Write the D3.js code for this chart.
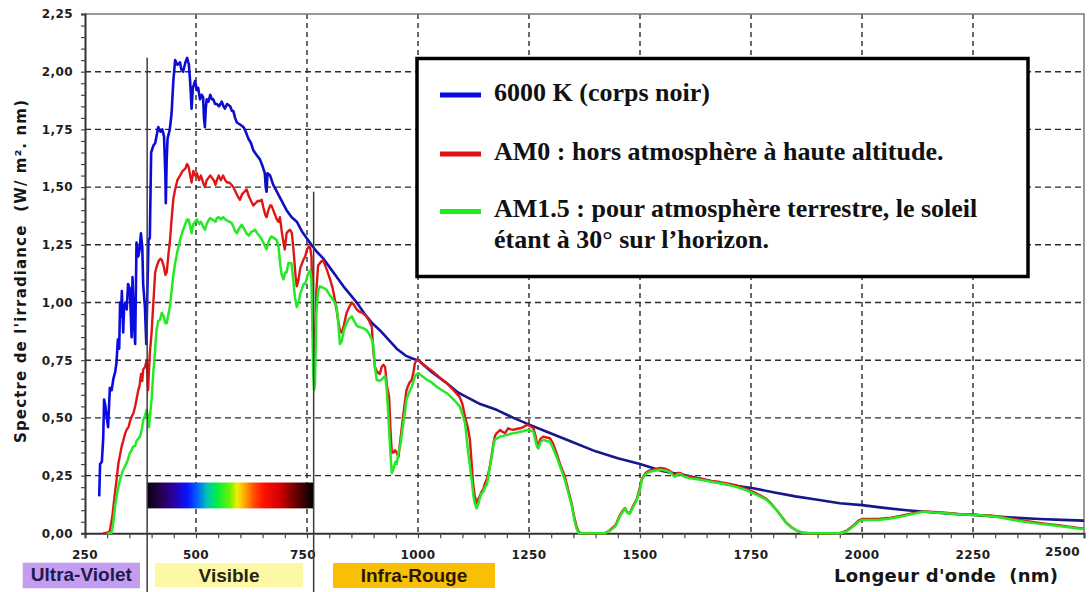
<!DOCTYPE html>
<html>
<head>
<meta charset="utf-8">
<script src="https://cdn.jsdelivr.net/npm/d3@7"></script>
<style>
  body { margin: 0; background: #fff; }
  svg { display: block; }
  .tick-label { font-family: "DejaVu Sans", Verdana, sans-serif; font-weight: bold; font-size: 12px; fill: #1e1e1e; letter-spacing: 0.4px; }
  .axis-title { font-family: "DejaVu Sans", Verdana, sans-serif; font-weight: bold; fill: #161616; white-space: pre; }
  .legend-text { font-family: "Liberation Serif", "Times New Roman", serif; font-weight: bold; font-size: 26px; fill: #111; }
  .band-label { font-family: "Liberation Sans", Arial, sans-serif; font-weight: bold; font-size: 19px; }
</style>
</head>
<body>
<div id="chart"></div>
<script>
// ---- data (wavelength nm, irradiance W/m2.nm) ----
const xTickValues = [250, 500, 750, 1000, 1250, 1500, 1750, 2000, 2250, 2500]
const yTickValues = [0, 0.25, 0.5, 0.75, 1, 1.25, 1.5, 1.75, 2, 2.25]

const seriesNames = ["6000 K (corps noir)", "AM0 : hors atmosphère à haute altitude.", "AM1.5 : pour atmosphère terrestre, le soleil"]
const seriesNote = "étant à 30° sur l’horizon."
const bandNames = ["Ultra-Violet", "Visible", "Infra-Rouge"]
const bandLimits = [390, 765]          // nm, separators between UV / visible / IR
const bandLimitTops = [2.06, 1.48]     // value where each separator starts

const blackBody = [
  [282,0.16],[284,0.30],[288,0.31],[291,0.41],[293,0.58],[296,0.55],[299,0.50],[302,0.46],[306,0.63],[310,0.62],
  [314,0.67],[318,0.70],[321,0.74],[324,0.84],[327,0.80],[329,1.00],[331,0.94],[333,1.05],[336,0.87],[338,0.98],
  [341,1.00],[344,0.97],[347,1.08],[351,1.06],[355,0.85],[357,1.11],[360,0.92],[363,0.82],[366,1.26],[370,1.20],
  [373,1.23],[376,1.30],[379,1.24],[381,1.08],[385,0.98],[388,0.82],[390,1.00],[393,1.27],[396,1.28],[399,1.65],
  [404,1.68],[408,1.69],[415,1.76],[420,1.74],[424,1.75],[428,1.72],[431,1.55],[432,1.43],[434,1.62],[436,1.71],
  [441,1.75],[445,1.82],[449,1.96],[453,2.05],[458,2.03],[464,2.04],[467,2.01],[471,2.00],[476,2.04],[480,2.06],
  [484,2.03],[486,1.98],[488,1.92],[490,1.84],[493,1.93],[498,1.96],[502,1.92],[505,1.93],[509,1.88],[513,1.90],
  [516,1.89],[518,1.80],[520,1.76],[522,1.84],[524,1.88],[528,1.87],[532,1.90],[536,1.88],[539,1.88],[543,1.86],
  [547,1.86],[552,1.85],[558,1.87],[562,1.85],[565,1.84],[570,1.86],[577,1.85],[581,1.83],[584,1.83],[588,1.80],
  [592,1.78],[600,1.77],[607,1.76],[612,1.74],[618,1.71],[624,1.69],[629,1.66],[636,1.64],[644,1.62],[650,1.59],
  [655,1.56],[657,1.50],[659,1.48],[661,1.56],[667,1.55],[674,1.51],[682,1.48],[693,1.44],[704,1.40],[715,1.37],
  [727,1.35],[738,1.31],[749,1.28],[760,1.25],[772,1.22],[787,1.19],[802,1.15],[817,1.11],[832,1.07],[847,1.035],
  [862,1.00],[880,0.95],[897,0.91],[914,0.88],[933,0.84],[952,0.80],[972,0.77],[990,0.755],[1001,0.75],[1030,0.70],
  [1065,0.65],[1090,0.61],[1110,0.59],[1140,0.56],[1177,0.535],[1215,0.50],[1252,0.47],[1290,0.44],[1342,0.40],[1400,0.355],
  [1450,0.325],[1500,0.30],[1550,0.27],[1605,0.25],[1650,0.23],[1700,0.21],[1755,0.195],[1800,0.178],[1850,0.16],[1900,0.145],
  [1950,0.13],[2000,0.122],[2050,0.11],[2100,0.10],[2150,0.092],[2200,0.085],[2250,0.08],[2300,0.073],[2350,0.067],[2400,0.062],
  [2450,0.058],[2500,0.055]
]

const am0 = [
  [291,0],[300,0.003],[306,0.01],[312,0.08],[316,0.15],[321,0.23],[325,0.30],[329,0.34],[333,0.38],[336,0.40],
  [340,0.43],[344,0.45],[348,0.46],[352,0.49],[355,0.505],[359,0.52],[363,0.55],[366,0.58],[370,0.62],[373,0.64],
  [376,0.69],[379,0.66],[381,0.71],[385,0.72],[389,0.75],[392,0.62],[396,0.78],[400,0.87],[404,1.00],[408,1.13],
  [412,1.16],[416,1.18],[420,1.19],[423,1.185],[427,1.16],[431,1.12],[434,1.13],[438,1.21],[441,1.26],[445,1.36],
  [449,1.45],[453,1.49],[458,1.53],[464,1.55],[470,1.57],[476,1.58],[480,1.60],[483,1.59],[487,1.55],[490,1.52],
  [494,1.57],[498,1.55],[502,1.56],[507,1.53],[511,1.55],[516,1.52],[520,1.50],[524,1.53],[528,1.54],[532,1.55],
  [536,1.54],[540,1.53],[544,1.51],[547,1.53],[551,1.55],[556,1.53],[561,1.55],[566,1.53],[570,1.52],[575,1.52],
  [580,1.51],[584,1.50],[589,1.48],[594,1.46],[599,1.445],[604,1.47],[609,1.48],[614,1.49],[619,1.46],[624,1.44],
  [629,1.42],[634,1.43],[639,1.44],[644,1.44],[648,1.445],[652,1.41],[656,1.38],[659,1.37],[663,1.40],[667,1.42],
  [670,1.42],[674,1.40],[678,1.38],[682,1.36],[686,1.35],[689,1.37],[693,1.31],[697,1.26],[700,1.23],[704,1.30],
  [708,1.31],[712,1.315],[716,1.30],[720,1.22],[724,1.12],[727,1.07],[731,1.10],[735,1.15],[739,1.17],[742,1.185],
  [746,1.20],[750,1.23],[753,1.24],[757,1.24],[760,1.20],[762,1.05],[764,0.85],[766,0.75],[768,0.80],[771,1.05],
  [775,1.16],[779,1.17],[783,1.18],[787,1.18],[791,1.16],[795,1.14],[802,1.10],[808,1.06],[814,1.00],[820,0.925],
  [824,0.88],[828,0.87],[833,0.90],[839,0.955],[845,0.98],[851,1.00],[856,0.99],[862,0.97],[868,0.96],[875,0.955],
  [884,0.94],[890,0.92],[896,0.895],[899,0.80],[903,0.72],[908,0.70],[914,0.69],[918,0.72],[922,0.73],[926,0.72],
  [930,0.64],[935,0.59],[938,0.45],[941,0.35],[945,0.35],[948,0.36],[952,0.35],[956,0.33],[960,0.40],[963,0.45],
  [968,0.53],[974,0.62],[980,0.65],[986,0.665],[990,0.70],[993,0.737],[997,0.75],[1001,0.75],[1010,0.735],[1020,0.72],
  [1027,0.71],[1040,0.69],[1052,0.67],[1065,0.65],[1080,0.62],[1094,0.59],[1100,0.56],[1106,0.505],[1112,0.46],[1117,0.405],
  [1121,0.30],[1124,0.217],[1128,0.16],[1132,0.13],[1136,0.15],[1139,0.16],[1143,0.18],[1147,0.19],[1151,0.217],[1156,0.24],
  [1162,0.29],[1166,0.34],[1170,0.39],[1173,0.42],[1177,0.434],[1181,0.44],[1185,0.448],[1190,0.44],[1196,0.434],[1203,0.455],
  [1209,0.45],[1215,0.448],[1222,0.452],[1230,0.455],[1237,0.46],[1245,0.47],[1252,0.465],[1260,0.455],[1265,0.42],[1268,0.39],
  [1271,0.383],[1276,0.41],[1282,0.419],[1290,0.415],[1297,0.412],[1304,0.39],[1312,0.347],[1320,0.30],[1331,0.245],[1338,0.19],
  [1346,0.13],[1352,0.07],[1357,0.03],[1362,0.005],[1370,0],[1420,0],[1430,0.01],[1445,0.035],[1455,0.08],[1462,0.10],
  [1466,0.11],[1472,0.09],[1477,0.087],[1485,0.12],[1493,0.15],[1500,0.2],[1504,0.235],[1512,0.26],[1519,0.27],[1530,0.276],
  [1545,0.283],[1556,0.28],[1568,0.27],[1574,0.258],[1579,0.25],[1585,0.262],[1590,0.262],[1600,0.25],[1613,0.245],[1625,0.24],
  [1643,0.235],[1660,0.227],[1680,0.222],[1700,0.215],[1718,0.207],[1735,0.195],[1755,0.18],[1770,0.165],[1785,0.148],[1797,0.125],
  [1808,0.10],[1820,0.07],[1830,0.045],[1842,0.025],[1853,0.012],[1865,0.003],[1880,0],[1950,0],[1964,0.01],[1975,0.025],
  [1984,0.04],[1992,0.055],[2000,0.062],[2036,0.062],[2060,0.066],[2086,0.075],[2110,0.085],[2138,0.095],[2160,0.092],[2188,0.089],
  [2215,0.084],[2240,0.082],[2265,0.079],[2291,0.077],[2315,0.07],[2341,0.062],[2365,0.055],[2392,0.047],[2420,0.04],[2443,0.035],
  [2470,0.028],[2500,0.02]
]

const am15 = [
  [300,0],[310,0.002],[314,0.05],[318,0.12],[322,0.17],[325,0.20],[330,0.24],[335,0.27],[340,0.29],[345,0.31],
  [351,0.347],[355,0.36],[358,0.375],[363,0.38],[366,0.40],[370,0.41],[374,0.42],[378,0.45],[381,0.49],[385,0.51],
  [389,0.535],[392,0.50],[394,0.46],[397,0.52],[400,0.58],[404,0.70],[408,0.795],[411,0.88],[415,0.92],[419,0.925],
  [423,0.955],[427,0.94],[431,0.91],[434,0.91],[438,0.95],[441,0.98],[445,1.05],[449,1.12],[453,1.17],[458,1.22],
  [464,1.27],[470,1.31],[476,1.34],[480,1.36],[483,1.36],[487,1.33],[490,1.30],[494,1.34],[498,1.35],[502,1.36],
  [507,1.34],[511,1.35],[516,1.33],[520,1.315],[524,1.34],[528,1.355],[532,1.366],[536,1.36],[540,1.355],[544,1.35],
  [547,1.366],[551,1.37],[556,1.36],[561,1.37],[566,1.36],[570,1.355],[575,1.35],[580,1.345],[584,1.33],[588,1.31],
  [592,1.30],[597,1.32],[603,1.337],[608,1.32],[614,1.30],[619,1.29],[624,1.305],[629,1.31],[633,1.315],[638,1.30],
  [644,1.286],[649,1.27],[654,1.25],[659,1.23],[663,1.26],[667,1.28],[670,1.286],[675,1.28],[682,1.27],[686,1.24],
  [690,1.16],[693,1.12],[697,1.10],[701,1.13],[704,1.13],[708,1.17],[712,1.17],[715,1.17],[719,1.10],[723,1.02],
  [727,0.98],[731,1.00],[735,1.04],[739,1.06],[742,1.08],[746,1.08],[750,1.11],[754,1.13],[757,1.14],[760,1.10],
  [762,0.90],[764,0.70],[766,0.62],[768,0.65],[771,0.95],[775,1.05],[779,1.07],[785,1.065],[790,1.06],[794,1.055],
  [800,1.035],[806,1.02],[812,1.00],[817,0.98],[821,0.90],[824,0.82],[828,0.83],[833,0.88],[839,0.91],[845,0.93],
  [851,0.94],[856,0.92],[862,0.90],[866,0.895],[875,0.89],[884,0.88],[891,0.86],[896,0.84],[899,0.82],[903,0.72],
  [907,0.665],[912,0.66],[918,0.665],[922,0.675],[926,0.68],[929,0.635],[933,0.52],[937,0.375],[941,0.26],[945,0.28],
  [949,0.31],[952,0.30],[956,0.35],[960,0.38],[963,0.42],[967,0.48],[971,0.53],[974,0.58],[978,0.60],[982,0.62],
  [986,0.635],[990,0.66],[993,0.68],[997,0.69],[1001,0.694],[1010,0.68],[1020,0.665],[1030,0.655],[1042,0.635],[1054,0.62],
  [1065,0.607],[1080,0.58],[1087,0.565],[1094,0.55],[1100,0.515],[1106,0.477],[1113,0.35],[1117,0.29],[1121,0.23],[1125,0.16],
  [1128,0.13],[1132,0.108],[1136,0.13],[1139,0.15],[1143,0.173],[1147,0.18],[1151,0.20],[1155,0.21],[1159,0.25],[1162,0.29],
  [1166,0.33],[1170,0.38],[1173,0.405],[1177,0.41],[1185,0.419],[1192,0.422],[1200,0.426],[1207,0.43],[1215,0.434],[1222,0.436],
  [1230,0.44],[1237,0.442],[1245,0.448],[1252,0.446],[1260,0.44],[1265,0.40],[1268,0.375],[1271,0.368],[1276,0.395],[1282,0.405],
  [1290,0.40],[1297,0.397],[1304,0.37],[1312,0.333],[1320,0.29],[1331,0.23],[1338,0.18],[1346,0.12],[1352,0.06],[1357,0.02],
  [1362,0],[1420,0],[1430,0.008],[1445,0.03],[1455,0.075],[1462,0.095],[1466,0.108],[1472,0.088],[1477,0.085],[1485,0.115],
  [1493,0.145],[1500,0.19],[1504,0.23],[1512,0.255],[1519,0.265],[1530,0.27],[1545,0.275],[1556,0.272],[1568,0.265],[1574,0.252],
  [1579,0.245],[1585,0.255],[1590,0.257],[1600,0.245],[1613,0.238],[1625,0.235],[1643,0.23],[1660,0.223],[1680,0.217],[1700,0.21],
  [1718,0.2],[1735,0.19],[1755,0.173],[1770,0.16],[1785,0.145],[1797,0.122],[1808,0.10],[1820,0.068],[1830,0.043],[1842,0.024],
  [1853,0.012],[1865,0.003],[1880,0],[1950,0],[1964,0.007],[1975,0.022],[1984,0.036],[1992,0.05],[2000,0.058],[2036,0.058],
  [2060,0.063],[2086,0.072],[2110,0.082],[2138,0.094],[2160,0.09],[2188,0.087],[2215,0.083],[2240,0.08],[2265,0.078],[2291,0.075],
  [2315,0.067],[2341,0.058],[2365,0.05],[2392,0.043],[2420,0.037],[2443,0.032],[2470,0.025],[2500,0.018]
]

function drawChart() {

  const xAccessor = d => d[0]
  const yAccessor = d => d[1]

  // Set dimensions
  let dimensions = {
    width: 1089,
    height: 592,
    margin: { top: 14, right: 5, bottom: 58.7, left: 85 },
  }
  dimensions.boundedWidth = dimensions.width - dimensions.margin.left - dimensions.margin.right
  dimensions.boundedHeight = dimensions.height - dimensions.margin.top - dimensions.margin.bottom

  // Create canvas
  const svg = d3.select("#chart")
    .append("svg")
    .attr("width", dimensions.width)
    .attr("height", dimensions.height)
    .style("background", "#fff")

  const bounds = svg.append("g")
    .attr("transform", `translate(${dimensions.margin.left},${dimensions.margin.top})`)

  // Scales
  const xScale = d3.scaleLinear()
    .domain([250, 2500])
    .range([0, dimensions.boundedWidth])
  const yScale = d3.scaleLinear()
    .domain([0, 2.25])
    .range([dimensions.boundedHeight, 0])

  const defs = svg.append("defs")

  // blue curve gets darker going into the infrared
  const blueGrad = defs.append("linearGradient")
    .attr("id", "blue-grad")
    .attr("gradientUnits", "userSpaceOnUse")
    .attr("x1", xScale(350)).attr("x2", xScale(1150))
    .attr("y1", 0).attr("y2", 0)
  blueGrad.append("stop").attr("offset", "0%").attr("stop-color", "#0a0ae2")
  blueGrad.append("stop").attr("offset", "100%").attr("stop-color", "#17178c")

  // rainbow bar
  const rainbowStops = [
    [0, "#0a0012"], [0.08, "#26004c"], [0.16, "#2a00a4"], [0.24, "#0814ff"], [0.30, "#0060ff"],
    [0.36, "#00c4b4"], [0.42, "#00ee44"], [0.50, "#74f000"], [0.54, "#eef000"], [0.58, "#ffb000"],
    [0.64, "#ff5000"], [0.70, "#ff1000"], [0.80, "#d00000"], [0.90, "#600000"], [1, "#000000"],
  ]
  defs.append("linearGradient")
    .attr("id", "rainbow")
    .selectAll("stop")
    .data(rainbowStops)
    .enter().append("stop")
      .attr("offset", d => d[0])
      .attr("stop-color", d => d[1])

  // Grid
  const gridColor = "#2a2a2a"
  bounds.append("g")
    .selectAll("line")
    .data(yTickValues.filter(v => v > 0 && v < 2.25))
    .enter().append("line")
      .attr("x1", 0).attr("x2", dimensions.boundedWidth)
      .attr("y1", d => yScale(d)).attr("y2", d => yScale(d))
      .attr("stroke", gridColor).attr("stroke-width", 1.4)
      .attr("stroke-dasharray", "6 4")
  bounds.append("g")
    .selectAll("line")
    .data(xTickValues.filter(v => v > 250 && v < 2500))
    .enter().append("line")
      .attr("x1", d => xScale(d)).attr("x2", d => xScale(d))
      .attr("y1", 0).attr("y2", dimensions.boundedHeight)
      .attr("stroke", gridColor).attr("stroke-width", 1.4)
      .attr("stroke-dasharray", "5 4")

  // frame top / right
  bounds.append("path")
    .attr("d", `M0,0H${dimensions.boundedWidth}V${dimensions.boundedHeight}`)
    .attr("fill", "none")
    .attr("stroke", "#777")
    .attr("stroke-width", 1.5)

  // Axes (minor ticks)
  const xAxis = d3.axisBottom(xScale)
    .tickValues(d3.range(250, 2501, 50))
    .tickSize(5)
    .tickFormat("")
  const xAxisGroup = bounds.append("g")
    .attr("transform", `translate(0,${dimensions.boundedHeight})`)
    .call(xAxis)
  const yAxis = d3.axisLeft(yScale)
    .tickValues(d3.range(0, 2.2501, 0.05))
    .tickSize(4)
    .tickFormat("")
  const yAxisGroup = bounds.append("g").call(yAxis)
  ;[xAxisGroup, yAxisGroup].forEach(g => {
    g.select(".domain").attr("stroke", "#333").attr("stroke-width", 2)
    g.selectAll(".tick line").attr("stroke", "#444").attr("stroke-width", 1.2)
  })

  // Tick labels
  const commaFormat = v => d3.format(".2f")(v).replace(".", ",")
  bounds.append("g")
    .selectAll("text")
    .data(yTickValues)
    .enter().append("text")
      .attr("class", "tick-label")
      .attr("x", -12)
      .attr("y", d => yScale(d))
      .attr("dy", "0.36em")
      .attr("text-anchor", "end")
      .text(commaFormat)
  bounds.append("g")
    .selectAll("text")
    .data(xTickValues)
    .enter().append("text")
      .attr("class", "tick-label")
      .attr("x", d => d == 2500 ? xScale(d) - 4 : xScale(d) - (d > 500 && d < 1000 ? 4 : 0))
      .attr("y", d => d == 2500 ? dimensions.boundedHeight + 22.7 : dimensions.boundedHeight + 26)
      .attr("text-anchor", d => d == 2500 ? "end" : "middle")
      .text(d => d)

  // Rainbow bar for the visible band
  bounds.append("rect")
    .attr("x", xScale(bandLimits[0]))
    .attr("width", xScale(bandLimits[1]) - xScale(bandLimits[0]))
    .attr("y", yScale(0.22))
    .attr("height", yScale(0.108) - yScale(0.22))
    .attr("fill", "url(#rainbow)")

  // Curves
  const lineGenerator = d3.line()
    .x(d => xScale(xAccessor(d)))
    .y(d => yScale(yAccessor(d)))

  const curves = [
    { data: blackBody, color: "url(#blue-grad)", width: 2.6 },
    { data: am0, color: "#e01616", width: 2.4 },
    { data: am15, color: "#26e826", width: 2.5 },
  ]
  bounds.selectAll(".curve")
    .data(curves)
    .enter().append("path")
      .attr("class", "curve")
      .attr("d", d => lineGenerator(d.data))
      .attr("fill", "none")
      .attr("stroke", d => d.color)
      .attr("stroke-width", d => d.width)
      .attr("stroke-linejoin", "round")

  // band separators
  bounds.selectAll(".band-limit")
    .data(bandLimits)
    .enter().append("line")
      .attr("class", "band-limit")
      .attr("x1", d => xScale(d)).attr("x2", d => xScale(d))
      .attr("y1", (d, i) => yScale(bandLimitTops[i]))
      .attr("y2", dimensions.height - dimensions.margin.top)
      .attr("stroke", "#3c3c3c")
      .attr("stroke-width", 1.5)

  // Band labels below the axis
  const bandBoxes = [
    { x: 22.7, y: 562.7, w: 117.3, h: 25.6, fill: "#c49cf0", text: "#1c1c4c" },
    { x: 155, y: 563, w: 148, h: 24, fill: "#fcf8a6", text: "#262610" },
    { x: 333, y: 563, w: 162, h: 25, fill: "#f8bf06", text: "#2a1800" },
  ]
  const bands = svg.append("g")
    .selectAll("g")
    .data(bandNames)
    .enter().append("g")
  bands.append("rect")
    .attr("x", (d, i) => bandBoxes[i].x)
    .attr("y", (d, i) => bandBoxes[i].y)
    .attr("width", (d, i) => bandBoxes[i].w)
    .attr("height", (d, i) => bandBoxes[i].h)
    .attr("fill", (d, i) => bandBoxes[i].fill)
  bands.append("text")
    .attr("class", "band-label")
    .attr("x", (d, i) => bandBoxes[i].x + bandBoxes[i].w / 2)
    .attr("y", (d, i) => bandBoxes[i].y + 18.5)
    .attr("text-anchor", "middle")
    .attr("fill", (d, i) => bandBoxes[i].text)
    .text(d => d)

  // Axis titles
  svg.append("text")
    .attr("class", "axis-title")
    .attr("transform", "translate(26,271.5) rotate(-90)")
    .attr("text-anchor", "middle")
    .style("font-size", "15px")
    .attr("textLength", 343)
    .attr("lengthAdjust", "spacing")
    .text("Spectre de l'irradiance  (W/ m². nm)")

  svg.append("text")
    .attr("class", "axis-title")
    .attr("x", 834)
    .attr("y", 582)
    .style("font-size", "18px")
    .attr("textLength", 224)
    .attr("lengthAdjust", "spacing")
    .text("Longeur d'onde  (nm)")

  // Legend
  const legend = svg.append("g")
  legend.append("rect")
    .attr("x", 417).attr("y", 58.5)
    .attr("width", 611).attr("height", 218)
    .attr("fill", "#fff")
    .attr("stroke", "#000")
    .attr("stroke-width", 3.5)

  const legendColors = ["#0a0ae0", "#e01010", "#1cf01c"]
  const legendRowsY = [95, 154, 211.5]
  seriesNames.forEach((name, i) => {
    legend.append("line")
      .attr("x1", 440).attr("x2", 481)
      .attr("y1", legendRowsY[i]).attr("y2", legendRowsY[i])
      .attr("stroke", legendColors[i])
      .attr("stroke-width", 5)
    legend.append("text")
      .attr("class", "legend-text")
      .attr("x", 494)
      .attr("y", legendRowsY[i] + 5.5)
      .text(name)
  })
  legend.append("text")
    .attr("class", "legend-text")
    .attr("x", 494)
    .attr("y", 248)
    .text(seriesNote)
}
drawChart()
</script>
</body>
</html>
